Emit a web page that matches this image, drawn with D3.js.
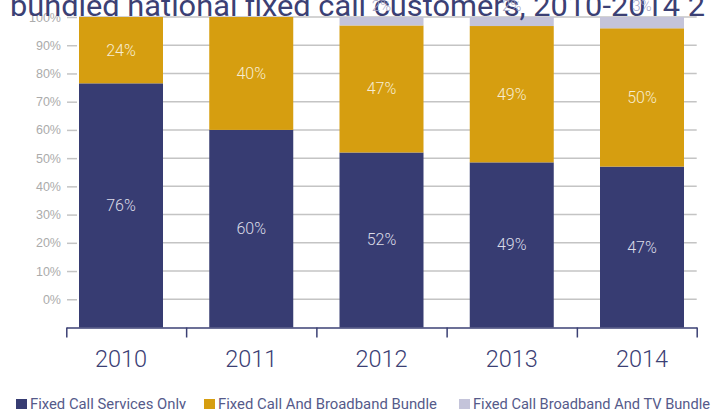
<!DOCTYPE html>
<html>
<head>
<meta charset="utf-8">
<title>Fixed call customers 2010-2014</title>
<script src="https://d3js.org/d3.v7.min.js"></script>
<style>
  html, body { margin: 0; padding: 0; background: #fff; }
  svg { display: block; font-family: Roboto, "DejaVu Sans", sans-serif; }
</style>
</head>
<body>
<div id="chart"></div>
<script>
// data
const years = [2010, 2011, 2012, 2013, 2014];
const callOnly = [76.5, 60, 52, 48.5, 47];
const broadband = [23.5, 40, 45, 48.3, 49];
const broadbandTv = [0, 0, 3, 3.2, 4];
const callOnlyLabels = ["76%", "60%", "52%", "49%", "47%"];
const broadbandLabels = ["24%", "40%", "47%", "49%", "50%"];
const tvLabels = ["", "", "2%", "2%", "3%"];
const yTicks = [0, 10, 20, 30, 40, 50, 60, 70, 80, 90, 100];
const axisBreaks = [2009.58, 2010.5, 2011.5, 2012.5, 2013.5, 2014.42];
const seriesNames = ["Fixed Call Services Only", "Fixed Call And Broadband Bundle", "Fixed Call Broadband And TV Bundle"];
const colors = ["#373c72", "#d69e10", "#c4c4da"];

const width = 716, height = 409;
const svg = d3.select("#chart").append("svg")
    .attr("width", width)
    .attr("height", height);

const x = d3.scaleLinear().domain([2010, 2014]).range([121, 642]);
const y = d3.scaleLinear().domain([-10, 100]).range([327.5, 17]);
const barW = 84;

// gridlines
svg.append("g").selectAll("line")
    .data(yTicks)
    .join("line")
    .attr("x1", 79).attr("x2", x(axisBreaks[5]))
    .attr("y1", d => y(d)).attr("y2", d => y(d))
    .attr("stroke", "#c4c4c4")
    .attr("stroke-width", 1.5);

// y axis
const yAxis = svg.append("g")
    .attr("transform", "translate(77,0)")
    .call(d3.axisLeft(y).tickValues(yTicks).tickSize(10).tickPadding(6).tickFormat(d => d + "%"));
yAxis.select(".domain").remove();
yAxis.selectAll("line").attr("stroke", "#c4c4c4").attr("stroke-width", 1.5);
yAxis.selectAll("text").attr("fill", "#ababab").style("font-size", "12.5px");

// stacked bars
const rows = years.map((yr, i) => ({ year: yr, a: callOnly[i], b: broadband[i], c: broadbandTv[i] }));
const stack = d3.stack().keys(["a", "b", "c"]).offset(d3.stackOffsetNone);
const stacked = stack(rows);
// bars start at the bottom of the plot (-10)
stacked[0].forEach(d => { d[0] = -10; });

svg.append("g").selectAll("g")
    .data(stacked)
    .join("g")
    .attr("fill", (d, i) => colors[i])
    .selectAll("rect")
    .data(d => d)
    .join("rect")
    .attr("x", d => x(d.data.year) - barW / 2)
    .attr("width", barW)
    .attr("y", d => y(d[1]))
    .attr("height", d => y(d[0]) - y(d[1]));

// segment labels
const labelText = [callOnlyLabels, broadbandLabels];
const labelColors = ["#dcdce8", "#f6edd2"];
[0, 1].forEach(k => {
  svg.append("g").selectAll("text")
      .data(stacked[k])
      .join("text")
      .attr("x", d => x(d.data.year))
      .attr("y", d => (y(d[0]) + y(d[1])) / 2)
      .attr("text-anchor", "middle")
      .attr("dominant-baseline", "central")
      .attr("fill", labelColors[k])
      .style("font-size", "16px")
      .style("font-weight", 300)
      .text((d, i) => labelText[k][i]);
});

// x axis
const xa = d3.scaleLinear().domain([axisBreaks[0], axisBreaks[5]]).range([x(axisBreaks[0]), x(axisBreaks[5])]);
const xAxis = svg.append("g")
    .attr("transform", `translate(0,${y(-10)})`)
    .call(d3.axisBottom(xa).tickValues(axisBreaks).tickSize(10).tickSizeOuter(0).tickFormat(""));
xAxis.selectAll("path, line").attr("stroke", "#3b4074").attr("stroke-width", 1.5);

svg.append("g").selectAll("text")
    .data(years)
    .join("text")
    .attr("x", d => x(d))
    .attr("y", 367)
    .attr("text-anchor", "middle")
    .attr("fill", "#3b4074")
    .style("font-size", "23.5px")
    .style("font-weight", 300)
    .text(d => d);

// title (only its second line shows)
svg.append("text")
    .attr("x", 10)
    .attr("y", 16)
    .attr("fill", "#3b4074")
    .attr("textLength", 695)
    .attr("lengthAdjust", "spacingAndGlyphs")
    .style("font-size", "29px")
    .text("bundled national fixed call customers, 2010-2014 2");

// tv labels sit above the bars
svg.append("g").selectAll("text")
    .data(stacked[2])
    .join("text")
    .attr("x", d => x(d.data.year))
    .attr("y", y(100) - 6)
    .attr("text-anchor", "middle")
    .attr("fill", "#a3a5c4")
    .style("font-size", "15px")
    .style("font-weight", 300)
    .text((d, i) => tvLabels[i]);

// legend
const legendX = [16, 204, 459];
const legendW = [156, 219, 237];
const lg = svg.append("g").selectAll("g")
    .data(seriesNames)
    .join("g")
    .attr("transform", (d, i) => `translate(${legendX[i]},399)`);
lg.append("rect")
    .attr("width", 11).attr("height", 10)
    .attr("fill", (d, i) => colors[i]);
lg.append("text")
    .attr("x", 14)
    .attr("y", 10)
    .attr("fill", "#555a8a")
    .attr("textLength", (d, i) => legendW[i])
    .attr("lengthAdjust", "spacingAndGlyphs")
    .style("font-size", "14px")
    .text(d => d);
</script>
</body>
</html>
